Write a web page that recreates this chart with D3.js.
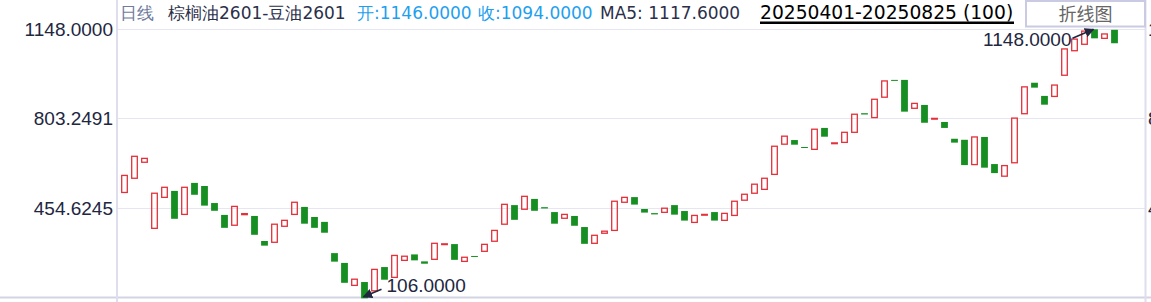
<!DOCTYPE html>
<html>
<head>
<meta charset="utf-8">
<script src="https://cdn.jsdelivr.net/npm/d3@7"></script>
<style>
  body { margin: 0; background: #fff; }
  svg { display: block; }
</style>
</head>
<body>
<svg id="chart" width="1151" height="302"></svg>
<script>
/* dados do grafico: abertura e fechamento de cada dia (100 dias) */
var opens = [
  516, 571, 633, 377, 497, 522, 431, 553, 541, 475,
  429, 389, 430, 425, 328, 323, 385, 431, 460, 421,
  402, 281, 243, 156, 169, 135, 227, 187, 253, 276,
  249, 257, 314, 316, 249, 270, 288, 327, 393, 467,
  451, 491, 459, 440, 416, 425, 382, 319, 358, 369,
  478, 498, 452, 436, 439, 467, 444, 400, 428, 440,
  408, 427, 486, 513, 528, 586, 703, 719, 692, 683,
  766, 705, 710, 749, 823, 806, 885, 952, 952, 842,
  855, 800, 789, 724, 720, 624, 731, 626, 579, 631,
  821, 941, 890, 888, 970, 1065, 1090, 1148, 1113, 1146
];
var closes = [
  582, 656, 648, 513, 536, 414, 536, 507, 465, 445,
  379, 462, 434, 352, 310, 393, 408, 478, 395, 379,
  360, 248, 166, 180, 106, 218, 178, 272, 269, 253,
  240, 319, 317, 255, 265, 267, 315, 369, 470, 410,
  501, 445, 454, 395, 431, 387, 317, 350, 366, 482,
  497, 469, 438, 431, 455, 430, 407, 427, 431, 407,
  435, 482, 509, 548, 571, 695, 734, 701, 689, 761,
  732, 708, 749, 819, 818, 877, 948, 949, 829, 861,
  786, 803, 766, 709, 622, 731, 612, 591, 620, 804,
  925, 922, 856, 932, 1072, 1110, 1141, 1113, 1130, 1094
];
var yTicks = [1148.0000, 803.2491, 454.6245];
var maxValue = 1148.0000;
var minValue = 106.0000;
var maxIndex = 97;
var minIndex = 24;

/* textos do cabecalho */
var periodo = "日线";
var nomeContrato = "棕榈油2601-豆油2601";
var txtAbertura = "开:1146.0000";
var txtFechamento = "收:1094.0000";
var txtMA5 = "MA5: 1117.6000";
var txtIntervalo = "20250401-20250825 (100)";
var txtBotao = "折线图";

var corAlta = "#e3313b";
var corBaixa = "#178e22";
var corTexto = "#22263f";
var fonteEixo = "Liberation Sans, Arial, sans-serif";
var fonteTitulo = "DejaVu Sans, sans-serif";

var svg = d3.select("#chart");

var plotLeft = 117, plotRight = 1145.5;
var y = d3.scaleLinear().domain([minValue, maxValue]).range([298.3, 29.3]);
var x = d3.scaleLinear().domain([0, opens.length - 1]).range([124.5, 1114.5]);

var candles = opens.map(function(o, i){ return {i: i, open: o, close: closes[i]}; });

/* linhas de grade */
svg.append("g").selectAll("line").data(yTicks).enter().append("line")
  .attr("x1", plotLeft).attr("x2", plotRight)
  .attr("y1", function(d){ return Math.round(y(d)) + 0.5; })
  .attr("y2", function(d){ return Math.round(y(d)) + 0.5; })
  .attr("stroke", "#e6e6f3").attr("stroke-width", 1.2);

/* linha de base e eixos verticais */
svg.append("line").attr("x1", 0).attr("x2", 1151).attr("y1", 297.5).attr("y2", 297.5)
  .attr("stroke", "#d3d3e6").attr("stroke-width", 2);
svg.append("line").attr("x1", plotLeft).attr("x2", plotLeft).attr("y1", 0).attr("y2", 302)
  .attr("stroke", "#dedeee").attr("stroke-width", 2);
svg.append("line").attr("x1", plotRight).attr("x2", plotRight).attr("y1", 0).attr("y2", 302)
  .attr("stroke", "#dedeee").attr("stroke-width", 2);

/* rotulos do eixo y, esquerda e direita */
var fmt = d3.format(".4f");
svg.append("g").selectAll("text").data(yTicks).enter().append("text")
  .attr("x", 113).attr("y", function(d){ return y(d); })
  .attr("dy", "0.36em").attr("text-anchor", "end")
  .style("font-family", fonteEixo).style("font-size", "19px").attr("fill", corTexto)
  .text(function(d){ return fmt(d); });
svg.append("g").selectAll("text").data(yTicks).enter().append("text")
  .attr("x", 1148).attr("y", function(d){ return y(d); })
  .attr("dy", "0.36em").attr("text-anchor", "start")
  .style("font-family", fonteEixo).style("font-size", "19px").attr("fill", corTexto)
  .text(function(d){ return fmt(d); });

/* candles: vermelho vazado = alta, verde cheio = baixa */
var g = svg.append("g");
g.selectAll("rect.up").data(candles.filter(function(d){ return d.close >= d.open; }))
  .enter().append("rect").attr("class", "up")
  .attr("x", function(d){ return x(d.i) - 2.8; })
  .attr("width", 5.6)
  .attr("y", function(d){ return y(d.close); })
  .attr("height", function(d){ return Math.max(0.6, y(d.open) - y(d.close)); })
  .attr("fill", "none").attr("stroke", corAlta).attr("stroke-width", 1.3);
g.selectAll("rect.down").data(candles.filter(function(d){ return d.close < d.open; }))
  .enter().append("rect").attr("class", "down")
  .attr("x", function(d){ return x(d.i) - 3.4; })
  .attr("width", 6.8)
  .attr("y", function(d){ return y(d.open); })
  .attr("height", function(d){ return Math.max(1, y(d.close) - y(d.open)); })
  .attr("fill", corBaixa);

/* marcadores de maximo e minimo */
svg.append("defs").append("marker")
  .attr("id", "seta").attr("viewBox", "0 0 10 10").attr("refX", 9).attr("refY", 5)
  .attr("markerWidth", 6).attr("markerHeight", 6).attr("orient", "auto")
  .append("path").attr("d", "M0,0 L10,5 L0,10 z").attr("fill", corTexto);

var xMax = x(maxIndex), yMax = y(maxValue);
svg.append("line").attr("x1", xMax - 22).attr("y1", yMax + 9).attr("x2", xMax - 1).attr("y2", yMax)
  .attr("stroke", corTexto).attr("stroke-width", 1.6).attr("marker-end", "url(#seta)");
svg.append("text").attr("x", xMax - 23).attr("y", yMax + 17)
  .attr("text-anchor", "end")
  .style("font-family", fonteEixo).style("font-size", "19px").attr("fill", corTexto)
  .text(fmt(maxValue));

var xMin = x(minIndex), yMin = y(minValue);
svg.append("line").attr("x1", xMin + 17).attr("y1", yMin - 9).attr("x2", xMin - 1).attr("y2", yMin - 1.5)
  .attr("stroke", corTexto).attr("stroke-width", 1.6).attr("marker-end", "url(#seta)");
svg.append("text").attr("x", xMin + 22).attr("y", yMin - 6.5)
  .style("font-family", fonteEixo).style("font-size", "19px").attr("fill", corTexto)
  .text(fmt(minValue));

/* cabecalho */
var titulo = svg.append("g").style("font-family", fonteTitulo).style("font-size", "17px");
titulo.append("text").attr("x", 120).attr("y", 19).attr("fill", "#6f7c9c").text(periodo);
titulo.append("text").attr("x", 168).attr("y", 19).attr("fill", "#2b2f4a").text(nomeContrato);
titulo.append("text").attr("x", 357).attr("y", 19).attr("fill", "#1f9ff0").text(txtAbertura);
titulo.append("text").attr("x", 478).attr("y", 19).attr("fill", "#1f9ff0").text(txtFechamento);
titulo.append("text").attr("x", 600).attr("y", 19).attr("fill", "#2b2f4a").text(txtMA5);

svg.append("text").attr("x", 760).attr("y", 19)
  .style("font-family", fonteTitulo).style("font-size", "18.7px").attr("fill", "#000")
  .text(txtIntervalo);
svg.append("rect").attr("x", 760).attr("y", 21.5).attr("width", 254).attr("height", 2.5).attr("fill", "#000");

/* botao de troca para grafico de linha */
svg.append("rect").attr("x", 1026).attr("y", 1).attr("width", 119).attr("height", 25.5)
  .attr("fill", "#fff").attr("stroke", "#cacae2").attr("stroke-width", 2);
svg.append("text").attr("x", 1085.5).attr("y", 20.5).attr("text-anchor", "middle")
  .style("font-family", "Noto Sans CJK SC, sans-serif").style("font-size", "18px").attr("fill", "#666")
  .text(txtBotao);
</script>
</body>
</html>
